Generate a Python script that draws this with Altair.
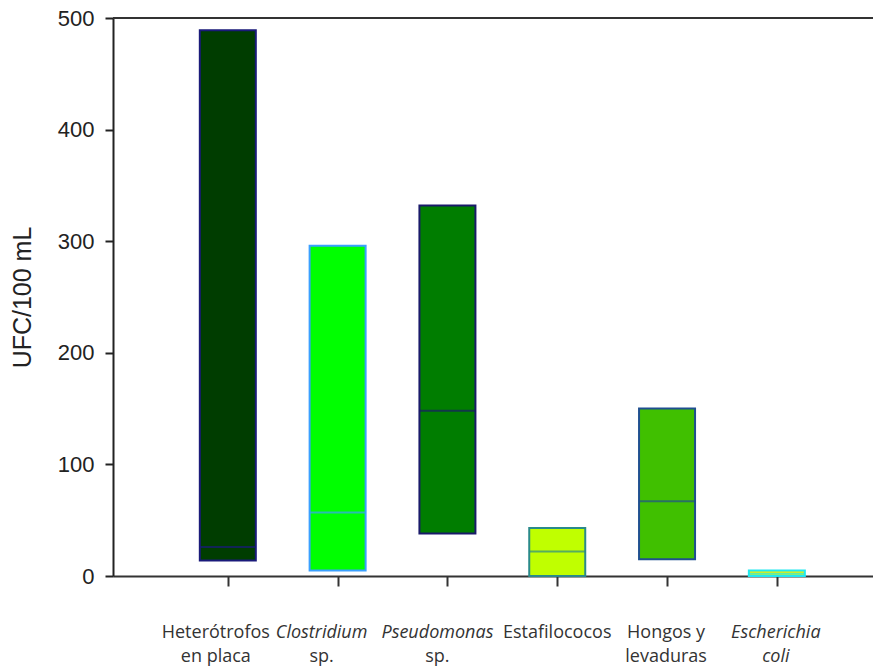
import altair as alt
import pandas as pd

categories = ["Heterótrofos en placa", "Clostridium sp.", "Pseudomonas sp.",
              "Estafilococos", "Hongos y levaduras", "Escherichia coli"]
positions = [1, 2, 3, 4, 5, 6]
low = [14, 5, 38, 0, 15, 0]
median = [26, 57, 148, 22, 67, 2]
high = [489, 296, 332, 43, 150, 5]
fills = ["#003d00", "#00ff00", "#007d00", "#c0ff00", "#40c000", "#f0f000"]
strokes = ["#1a1a7a", "#3aa0ff", "#1a1a6a", "#2a8a8a", "#1f4f8f", "#20e8f0"]

label_line1 = ["Heterótrofos", "Clostridium", "Pseudomonas", "Estafilococos", "Hongos y", "Escherichia"]
label_line1_style = ["normal", "italic", "italic", "normal", "normal", "italic"]
label_line2 = ["en placa", "sp.", "sp.", "", "levaduras", "coli"]
label_line2_style = ["normal", "normal", "normal", "normal", "normal", "italic"]

df = pd.DataFrame({"cat": categories, "pos": positions, "low": low,
                   "median": median, "high": high})

labels = pd.concat([
    pd.DataFrame({"pos": positions, "text": label_line1, "style": label_line1_style, "line": 1}),
    pd.DataFrame({"pos": positions, "text": label_line2, "style": label_line2_style, "line": 2}),
], ignore_index=True)

xscale = alt.Scale(domain=[0, 6.83], nice=False, zero=False)
yscale = alt.Scale(domain=[0, 500], nice=False)
fill_scale = alt.Scale(domain=categories, range=fills)
stroke_scale = alt.Scale(domain=categories, range=strokes)

x_axis = alt.Axis(values=positions, labels=False, title=None, grid=False,
                  tickSize=10, tickWidth=2, tickColor="#333333",
                  domainWidth=2, domainColor="#333333")
y_axis = alt.Axis(values=[0, 100, 200, 300, 400, 500], grid=False,
                  tickSize=8, tickWidth=2, tickColor="#222222",
                  domainWidth=2, domainColor="#222222",
                  labelFont="Liberation Sans", labelFontSize=22, labelColor="#222222",
                  labelPadding=11,
                  title="UFC/100 mL", titleFont="Liberation Sans", titleFontSize=25,
                  titleFontWeight="normal", titleColor="#222222", titlePadding=22)

bars = alt.Chart(df).mark_bar(size=56, strokeWidth=2).encode(
    x=alt.X("pos:Q", scale=xscale, axis=x_axis),
    y=alt.Y("low:Q", scale=yscale, axis=y_axis),
    y2="high:Q",
    fill=alt.Fill("cat:N", scale=fill_scale, legend=None),
    stroke=alt.Stroke("cat:N", scale=stroke_scale, legend=None),
)

med = alt.Chart(df).mark_tick(orient="horizontal", size=56, thickness=2).encode(
    x=alt.X("pos:Q", scale=xscale),
    y=alt.Y("median:Q", scale=yscale),
    color=alt.Color("cat:N", scale=stroke_scale, legend=None),
)

top_line = alt.Chart(pd.DataFrame({"y": [500]})).mark_rule(
    color="#333333", strokeWidth=2).encode(
    y=alt.Y("y:Q", scale=yscale),
    x=alt.value(0), x2=alt.value(760),
)

# horizontal nudges of the category labels (pixels), per category index
label_nudge = [-12, -16, -10, 0, -1, -1]
line_y = {1: 620, 2: 644}


def label_layer(line, idx):
    row = labels[(labels.line == line) & (labels.pos == positions[idx])].iloc[0]
    return alt.Chart(labels).transform_filter(
        (alt.datum.line == line) & (alt.datum.pos == positions[idx])
    ).mark_text(font="Open Sans", fontSize=18, color="#333333",
                baseline="alphabetic", fontStyle=row["style"],
                dx=label_nudge[idx]).encode(
        x=alt.X("pos:Q", scale=xscale),
        y=alt.value(line_y[line]),
        text="text:N",
    )


text_layers = [label_layer(ln, i) for ln in (1, 2) for i in range(len(positions))]

chart = alt.layer(bars, med, top_line, *text_layers).properties(
    width=760, height=558,
    autosize=alt.AutoSizeParams(type="none"),
    padding={"left": 105, "top": 10, "right": 0, "bottom": 91},
).configure_view(stroke=None).configure(background="white")

chart.save("out.html", embed_options={"renderer": "svg", "actions": False})
